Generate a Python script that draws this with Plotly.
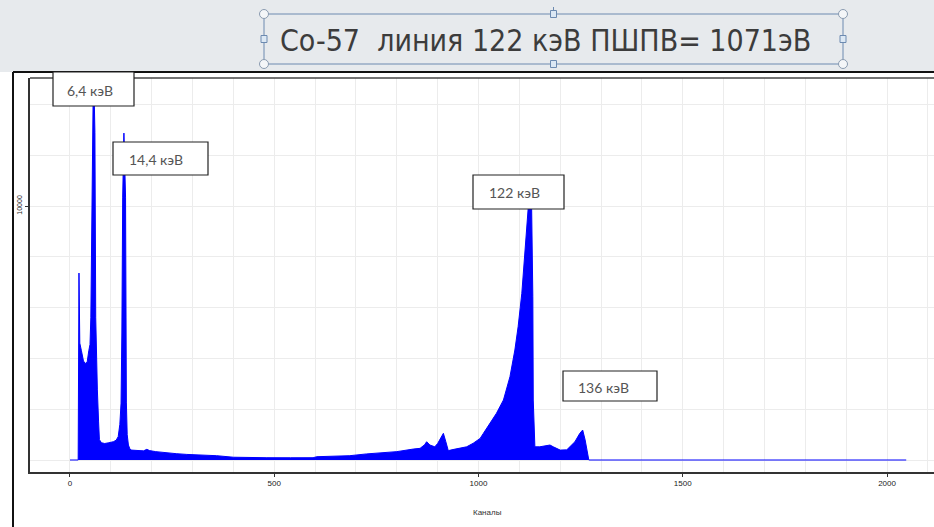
import plotly.graph_objects as go

# ---- data ----
channels = [0, 20, 22, 24, 28, 33, 37, 42, 46, 49, 51, 53, 55, 57, 59, 61, 63, 65, 67, 70, 72, 77, 85, 95,
            106, 113, 118, 122, 125, 127, 129, 132, 134, 136, 138, 140, 143, 147, 151, 165, 180, 188, 195,
            210, 237, 260, 286, 320, 359, 400, 440, 482, 540, 595, 604, 650, 685, 726, 759, 800, 840, 857,
            868, 873, 881, 893, 900, 906, 914, 920, 926, 940, 955, 971, 987, 1004, 1012, 1028, 1044, 1061,
            1077, 1089, 1097, 1106, 1114, 1120, 1122, 1130, 1133, 1134, 1136, 1138, 1150, 1165, 1175, 1183,
            1200, 1216, 1236, 1248, 1255, 1261, 1265, 1268, 1270, 2047]
counts = [0, 0, 7360, 4600, 4300, 3900, 3800, 3850, 4300, 4550, 5600, 8500, 13900, 14800, 14500, 12900,
          5600, 4000, 2760, 1500, 800, 680, 650, 680, 720, 780, 920, 1400, 2240, 5000, 10350, 12870, 11000,
          10350, 2280, 1000, 590, 420, 390, 380, 360, 420, 370, 330, 280, 250, 220, 200, 170, 110, 95, 90,
          88, 90, 130, 150, 170, 240, 290, 330, 430, 460, 600, 720, 590, 520, 650, 850, 1050, 720, 370, 420,
          460, 520, 660, 850, 1050, 1450, 1840, 2360, 3280, 4330, 5250, 6560, 8270, 9840, 10000, 10000, 6430,
          2360, 900, 520, 520, 560, 590, 520, 390, 400, 720, 1050, 1180, 790, 460, 200, 0, 0]

x_tick_vals = [0, 500, 1000, 1500, 2000]
x_tick_text = ["0", "500", "1000", "1500", "2000"]
y_tick_vals = [10000]
y_tick_text = ["10000"]

title_text = "Co-57\u00a0 линия 122 кэВ ПШПВ= 1071эВ"
x_title = "Каналы"
peak_labels = ["6,4 кэВ", "14,4 кэВ", "122 кэВ", "136 кэВ"]

# ---- layout geometry (pixels) ----
W, H = 934, 527
PL, PR, PT, PB = 30, 934, 78, 472


def px(x):
    return (x - PL) / (PR - PL)


def py(y):
    return (PB - y) / (PB - PT)


fig = go.Figure()
fig.add_trace(go.Scatter(
    x=channels, y=counts, mode="lines",
    line=dict(color="#0000ff", width=1),
    fill="tozeroy", fillcolor="#0000ff",
    hoverinfo="skip",
))

grid = "#ececec"
fig.update_xaxes(
    range=[-97.9, 2115], tickvals=x_tick_vals, ticktext=x_tick_text,
    showgrid=True, gridcolor=grid, gridwidth=1, zeroline=False,
    minor=dict(dtick=100, tick0=0, showgrid=True, gridcolor=grid, gridwidth=1, ticks=""),
    showline=True, linecolor="#333333", linewidth=1.5,
    ticks="outside", ticklen=3, tickcolor="#333333",
    tickfont=dict(family="Liberation Sans, Arial", size=8, color="#222222"),
)
fig.update_yaxes(
    range=[-472, 15039], tickvals=y_tick_vals, ticktext=y_tick_text, tickangle=-90,
    showgrid=True, gridcolor=grid, gridwidth=1, zeroline=False,
    minor=dict(dtick=2000, tick0=0, showgrid=True, gridcolor=grid, gridwidth=1, ticks=""),
    showline=True, linecolor="#333333", linewidth=1.5,
    ticks="outside", ticklen=3, tickcolor="#333333",
    tickfont=dict(family="Liberation Sans, Arial", size=7, color="#222222"),
)

shapes = []
# grey slide band at top
shapes.append(dict(type="rect", xref="paper", yref="paper", x0=px(0), x1=px(W), y0=py(72), y1=py(0),
                   fillcolor="#e7eaed", line=dict(width=0), layer="above"))
# slide frame lines
shapes.append(dict(type="line", xref="paper", yref="paper", x0=px(13), x1=px(W), y0=py(72), y1=py(72),
                   line=dict(color="#111111", width=2)))
shapes.append(dict(type="line", xref="paper", yref="paper", x0=px(13), x1=px(13), y0=py(72), y1=py(H),
                   line=dict(color="#111111", width=2)))
# panel top border
shapes.append(dict(type="line", xref="paper", yref="paper", x0=px(30), x1=px(W), y0=py(78), y1=py(78),
                   line=dict(color="#444444", width=1.5)))
# title text box with selection handles
bx0, bx1, by0, by1 = 264, 843, 14, 64
shapes.append(dict(type="rect", xref="paper", yref="paper", x0=px(bx0), x1=px(bx1), y0=py(by1), y1=py(by0),
                   line=dict(color="#6c8ab0", width=1), fillcolor="rgba(0,0,0,0)"))
shapes.append(dict(type="line", xref="paper", yref="paper", x0=px((bx0 + bx1) / 2), x1=px((bx0 + bx1) / 2),
                   y0=py(by0), y1=py(by0 - 7), line=dict(color="#6c8ab0", width=1)))
for cx, cy in [(bx0, by0), (bx1, by0), (bx0, by1), (bx1, by1)]:
    shapes.append(dict(type="circle", xref="paper", yref="paper", x0=px(cx - 4.5), x1=px(cx + 4.5),
                       y0=py(cy + 4.5), y1=py(cy - 4.5), fillcolor="#f4f6f8",
                       line=dict(color="#8a9bb0", width=1)))
mx, my = (bx0 + bx1) / 2, (by0 + by1) / 2
for cx, cy in [(mx, by0), (mx, by1), (bx0, my), (bx1, my)]:
    shapes.append(dict(type="rect", xref="paper", yref="paper", x0=px(cx - 3), x1=px(cx + 3),
                       y0=py(cy + 3.5), y1=py(cy - 3.5), fillcolor="#dce8f4",
                       line=dict(color="#6c8ab0", width=1)))

# peak label boxes (pixel boxes) and text centres
label_boxes = [(53, 72, 134, 106), (113, 142, 208, 175), (473, 175, 564, 209), (563, 371, 657, 401)]
label_centres = [(89.5, 90), (155.5, 159), (514, 192), (603.5, 387)]
annotations = []
for (x0, y0, x1, y1), (cx, cy), txt in zip(label_boxes, label_centres, peak_labels):
    shapes.append(dict(type="rect", xref="paper", yref="paper", x0=px(x0), x1=px(x1), y0=py(y1), y1=py(y0),
                       fillcolor="white", line=dict(color="#222222", width=1.2)))
    annotations.append(dict(xref="paper", yref="paper", x=px(cx), y=py(cy), text=txt, showarrow=False,
                            xanchor="center", yanchor="middle",
                            font=dict(family="Lato, Open Sans", size=14, color="#555555")))

annotations.append(dict(xref="paper", yref="paper", x=px(278), y=py(40), text=title_text, showarrow=False,
                        xanchor="left", yanchor="middle",
                        font=dict(family="Liberation Sans Narrow, DejaVu Sans Condensed, Arial Narrow",
                                  size=30, color="#3c3c3c")))
annotations.append(dict(xref="paper", yref="paper", x=px(487), y=py(512), text=x_title, showarrow=False,
                        xanchor="center", yanchor="middle",
                        font=dict(family="Liberation Sans, Arial", size=8, color="#333333")))

fig.update_layout(
    width=W, height=H, margin=dict(l=PL, r=W - PR, t=PT, b=H - PB, pad=0),
    paper_bgcolor="white", plot_bgcolor="white", showlegend=False,
    shapes=shapes, annotations=annotations,
)

fig.write_html("out.html", config={"displayModeBar": False},
               post_script="document.body.style.margin='0';document.body.style.overflow='hidden';")
